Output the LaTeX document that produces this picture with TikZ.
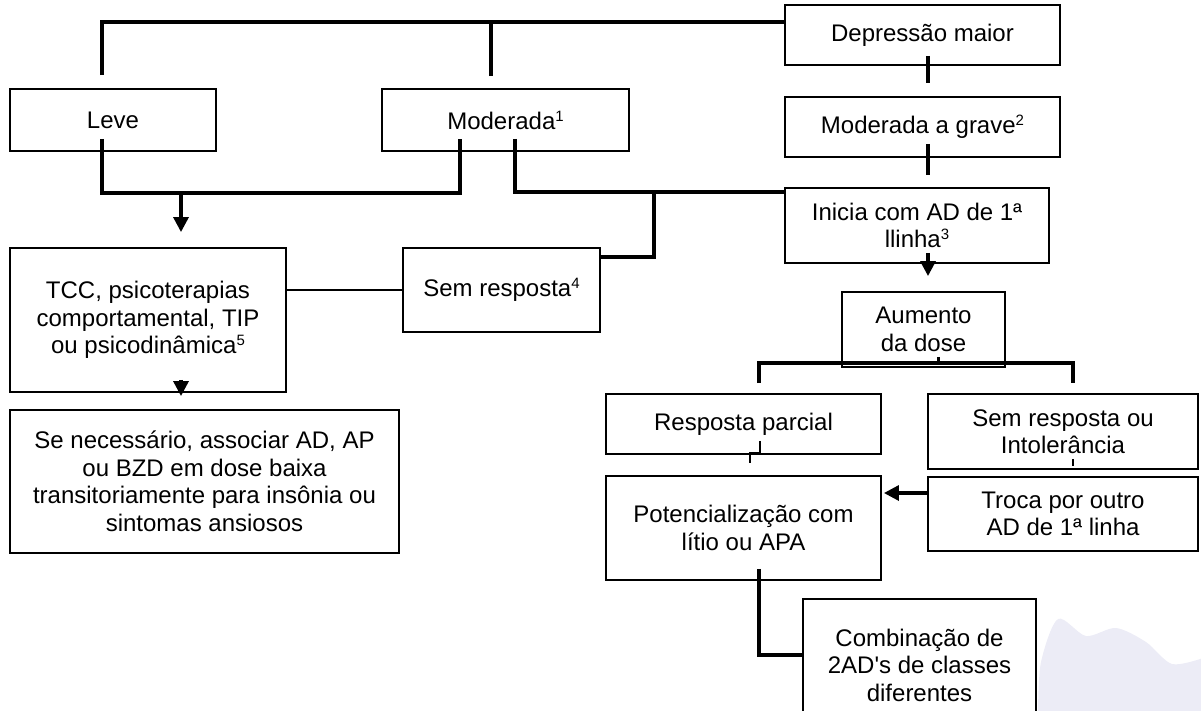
\documentclass[tikz,border=0pt]{standalone}
\usepackage{fontspec}
\setmainfont{Liberation Sans}
\usetikzlibrary{arrows.meta}

\newcommand{\supnum}[1]{\raisebox{8pt}{\fontsize{15}{15}\selectfont #1}}

\begin{document}
\begin{tikzpicture}[x=1pt, y=-1pt]
      \tikzstyle{every node}=[draw, line width=1.9pt, inner sep=0pt, align=center,
        font=\fontsize{24}{27.5}\selectfont]
      \tikzstyle{link}=[line width=3.3pt]
      \tikzstyle{arr}=[line width=3.3pt, -{Triangle[width=15pt, length=15pt]}]
      \tikzstyle{thinlink}=[line width=1.7pt]

      \useasboundingbox (0, 0) rectangle (1201, 710);

      % watermark cloud
      \fill[fill={rgb,255:red,236;green,236;blue,246}]
        plot[smooth] coordinates {(1038, 712) (1041, 662) (1058, 619) (1086, 636)
          (1116, 628) (1146, 642) (1172, 664) (1203, 658)}
        -- (1203, 712) -- cycle;

      % boxes
      \path (922.5, 35) node[minimum width=275pt, minimum height=60pt] (dep) {Depressão maior};
      \path (113, 120) node[minimum width=206pt, minimum height=62pt] (leve) {Leve};
      \path (505.5, 120) node[minimum width=247pt, minimum height=62pt] (mod) {Moderada\supnum{1}};
      \path (922.5, 127) node[minimum width=275pt, minimum height=60pt] (grave) {Moderada a grave\supnum{2}};
      \path (917, 225.5) node[minimum width=264pt, minimum height=75pt] (ini) {Inicia com AD de 1ª\\llinha\supnum{3}};
      \path (148, 320) node[minimum width=276pt, minimum height=144pt] (tcc)
        {TCC, psicoterapias\\comportamental, TIP\\ou psicodinâmica\supnum{5}};
      \path (501.5, 290) node[minimum width=197pt, minimum height=84pt] (semr) {Sem resposta\supnum{4}};
      \path (204.5, 481.5) node[minimum width=389pt, minimum height=143pt] (senec)
        {Se necessário, associar AD, AP\\ou BZD em dose baixa\\transitoriamente para insônia ou\\sintomas ansiosos};
      \path (923.5, 329.5) node[minimum width=163pt, minimum height=75pt] (aum) {Aumento\\da dose};
      \path (743.5, 424) node[minimum width=275pt, minimum height=60pt] (parc) {Resposta parcial};
      \path (1063, 431.5) node[minimum width=270pt, minimum height=75pt] (intol) {Sem resposta ou\\Intolerância};
      \path (743.5, 528) node[minimum width=275pt, minimum height=104pt] (pot) {Potencialização com\\lítio ou APA};
      \path (1063, 514) node[minimum width=270pt, minimum height=74pt] (troca) {Troca por outro\\AD de 1ª linha};
      \path (919.5, 665) node[minimum width=233pt, minimum height=132pt] (comb)
        {Combinação de\\2AD\textquotesingle s de classes\\diferentes};

      \coordinate (lbus) at (181, 192);
      \coordinate (mbus) at (654, 192);

      % connectors
      \draw[link]
        ([xshift=-11pt, yshift=13pt]leve.north) |- ([yshift=13pt]dep.west)
        ([xshift=-14.5pt, yshift=12pt]mod.north) -- ++(0, -55)
        ([xshift=5.5pt, yshift=10pt]dep.south) -- ++(0, 27)
        ([xshift=5.5pt, yshift=14pt]grave.south) -- ++(0, 31)
        ([xshift=-11pt, yshift=13pt]leve.south) -- ++(0, 54) -| ([xshift=-45.5pt, yshift=13pt]mod.south)
        ([xshift=9.5pt, yshift=13pt]mod.south) |- ([yshift=33.5pt]ini.west)
        (mbus) |- ([yshift=33pt]semr.east)
        ([xshift=15.5pt, yshift=10pt]parc.north) |- ([yshift=5pt]aum.south) -| ([xshift=10pt, yshift=10pt]intol.north)
        ([xshift=15.5pt, yshift=12pt]pot.south) |- ([yshift=10pt]comb.west);

      \draw[link, line width=2.3pt]
        ([xshift=15pt, yshift=11pt]aum.south) |- ([xshift=6pt, yshift=6pt]aum.south)
        ([xshift=16.5pt, yshift=14pt]parc.south) -- ++(0, 12) -- ++(-10, 0) -- ++(0, 10);

      \draw[thinlink]
        (semr.west -| tcc.east) -- (semr.west);
      \draw[line width=1.2pt]
        ([xshift=10pt, yshift=11pt]intol.south) -- ++(0, 7);

      \draw[arr] (lbus) -- ([xshift=33pt, yshift=15pt]tcc.north);
      \draw[arr] ([xshift=33pt, yshift=13pt]tcc.south) -- ([xshift=-23.5pt, yshift=13pt]senec.north);
      \draw[arr] ([xshift=11pt, yshift=11pt]ini.south) -- ([xshift=4.5pt, yshift=15pt]aum.north);
      \draw[arr] ([yshift=21pt]troca.west) -- ([xshift=2pt, yshift=35pt]pot.east);
    \end{tikzpicture}
\end{document}
